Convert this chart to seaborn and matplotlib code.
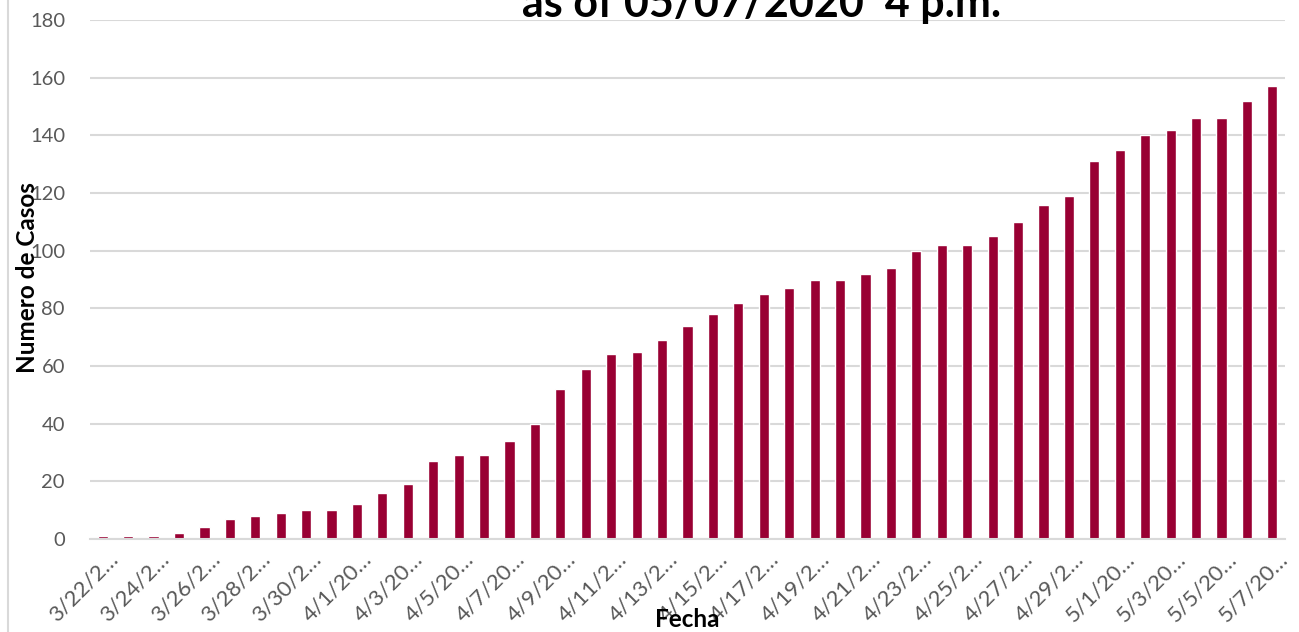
import pandas as pd
import matplotlib.pyplot as plt
import matplotlib.transforms as mtransforms
import seaborn as sns
from matplotlib.patches import Rectangle

###############################################################################

fechas = pd.date_range('2020-03-22', '2020-05-07', freq='D').strftime('%-m/%-d/%Y').tolist()

casos = [1, 1, 1, 2, 4, 7, 8, 9, 10, 10,
         12, 16, 19, 27, 29, 29, 34, 40, 52, 59,
         64, 65, 69, 74, 78, 82, 85, 87, 90, 90,
         92, 94, 100, 102, 102, 105, 110, 116, 119, 131,
         135, 140, 142, 146, 146, 152, 157]

etiquetas = ['3/22/2…', '3/24/2…', '3/26/2…', '3/28/2…', '3/30/2…', '4/1/20…',
             '4/3/20…', '4/5/20…', '4/7/20…', '4/9/20…', '4/11/2…', '4/13/2…',
             '4/15/2…', '4/17/2…', '4/19/2…', '4/21/2…', '4/23/2…', '4/25/2…',
             '4/27/2…', '4/29/2…', '5/1/20…', '5/3/20…', '5/5/20…', '5/7/20…']

titulo = 'as of 05/07/2020  4 p.m.'

###############################################################################

df = pd.DataFrame({'Fecha': fechas, 'Casos': casos})

sns.set_style('white')
plt.rcParams['font.family'] = ['Lato', 'DejaVu Sans']

fig = plt.figure(figsize=(12.99, 6.32), dpi=100)
ax = fig.add_axes([90 / 1299, 93 / 632, 1195 / 1299, 519 / 632])

sns.barplot(data=df, x='Fecha', y='Casos', order=fechas,
            color='#990033', saturation=1, width=0.4, ax=ax)

ax.set_ylim(0, 180)
ax.set_xlim(-0.5, len(fechas) - 0.5)
ax.set_yticks(range(0, 181, 20))
ax.yaxis.grid(True, color='#d9d9d9', linewidth=1.5)
ax.set_axisbelow(True)

ax.set_xticks(range(0, len(fechas), 2))
ax.set_xticklabels(etiquetas, rotation=45, ha='right', va='center', rotation_mode='anchor')
ax.set_xticks([i - 0.5 for i in range(0, len(fechas) + 1, 2)], minor=True)
ax.tick_params(axis='x', which='major', length=0, pad=12, labelsize=16, colors='#595959')
ax.tick_params(axis='x', which='minor', length=6, width=1.2, color='#d9d9d9')
ax.tick_params(axis='y', length=0, pad=18, labelsize=14.5, colors='#595959')

shift = mtransforms.ScaledTranslation(12 / 100, 0, fig.dpi_scale_trans)
for lbl in ax.get_xticklabels():
    lbl.set_transform(lbl.get_transform() + shift)

for s in ['top', 'right', 'left']:
    ax.spines[s].set_visible(False)
ax.spines['bottom'].set_color('#d9d9d9')
ax.spines['bottom'].set_linewidth(1.5)

ax.set_xlabel('Fecha', fontsize=17.5, fontweight='bold', color='black')
ax.set_ylabel('Numero de Casos', fontsize=17.5, fontweight='bold', color='black')
ax.xaxis.set_label_coords(0.5, -(627 - 539) / 519, transform=ax.transAxes)
ax.xaxis.label.set_va('baseline')
ax.yaxis.set_label_coords((28 - 90) / 1195, (539 - 278) / 519)
ax.yaxis.label.set_va('center')

fig.text(762 / 1299, 1 - 17 / 632, titulo, ha='center', va='baseline',
         fontsize=31, fontweight='bold', color='black')

fig.patches.append(Rectangle((8 / 1299, -0.1), 1.2, 1.2, transform=fig.transFigure,
                             fill=False, edgecolor='#d9d9d9', linewidth=1.5))

fig.savefig('out.png', dpi=100)
plt.close(fig)
